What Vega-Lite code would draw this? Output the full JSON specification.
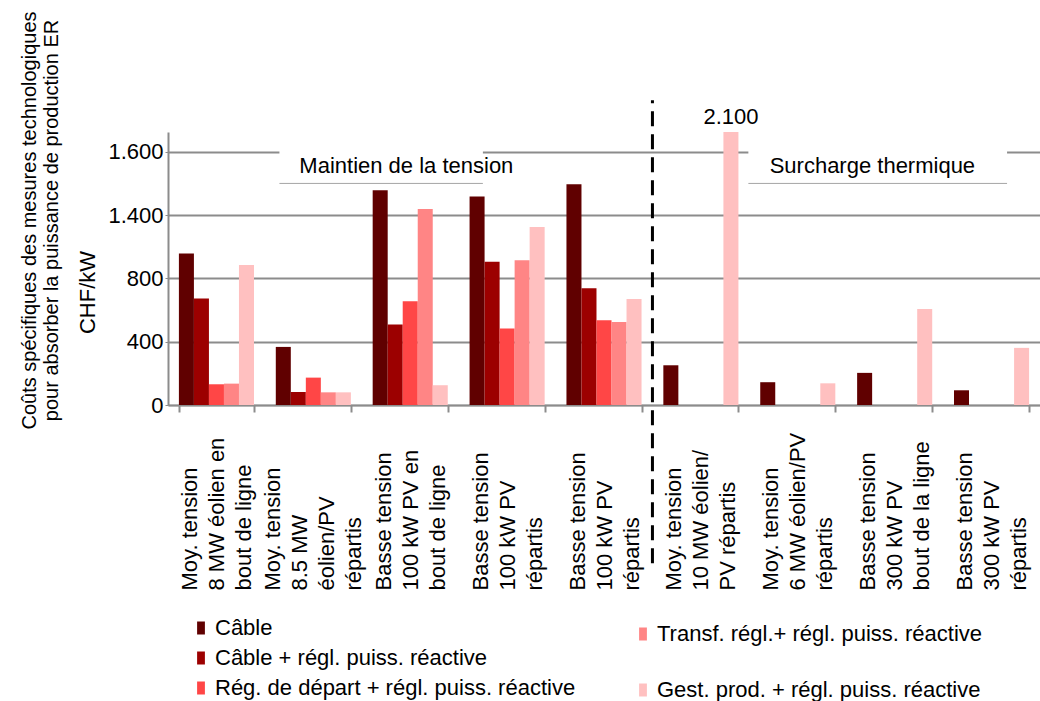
{
  "$schema": "https://vega.github.io/schema/vega-lite/v6.json",
  "width": 872,
  "height": 273,
  "autosize": {"type": "none"},
  "padding": {"left": 168, "top": 132, "right": 0, "bottom": 296},
  "title": {
    "text": ["Coûts spécifiques des mesures technologiques", "pour absorber la puissance de production ER"],
    "orient": "left",
    "anchor": "middle",
    "frame": "group",
    "font": "Liberation Sans",
    "fontSize": 20,
    "fontWeight": "normal",
    "color": "#000000",
    "lineHeight": 22,
    "offset": 15,
    "dx": 48
  },
  "config": {
    "font": "Liberation Sans",
    "locale": {"number": {"decimal": ",", "thousands": ".", "grouping": [3], "currency": ["", " CHF"]}},
    "view": {"stroke": null},
    "axis": {
      "labelFont": "Liberation Sans",
      "titleFont": "Liberation Sans",
      "labelColor": "#000000",
      "titleColor": "#000000",
      "titleFontWeight": "normal",
      "domainColor": "#8c8c8c",
      "tickColor": "#8c8c8c"
    },
    "legend": {
      "labelFont": "Liberation Sans",
      "labelColor": "#000000",
      "labelFontSize": 22,
      "labelLimit": 600,
      "padding": 0,
      "symbolType": "M-0.6,-1H0.6V1H-0.6Z",
      "symbolSize": 169,
      "symbolStrokeWidth": 0,
      "labelOffset": 3,
      "direction": "vertical"
    }
  },
  "datasets": {
    "costs": [
      {"scenario": "1|Moy. tension|8 MW éolien en|bout de ligne", "series": "Câble", "value": 958},
      {"scenario": "1|Moy. tension|8 MW éolien en|bout de ligne", "series": "Câble + régl. puiss. réactive", "value": 673},
      {"scenario": "1|Moy. tension|8 MW éolien en|bout de ligne", "series": "Rég. de départ + régl. puiss. réactive", "value": 131},
      {"scenario": "1|Moy. tension|8 MW éolien en|bout de ligne", "series": "Transf. régl.+ régl. puiss. réactive", "value": 135},
      {"scenario": "1|Moy. tension|8 MW éolien en|bout de ligne", "series": "Gest. prod. + régl. puiss. réactive", "value": 884},
      {"scenario": "2|Moy. tension|8.5 MW|éolien/PV|répartis", "series": "Câble", "value": 367},
      {"scenario": "2|Moy. tension|8.5 MW|éolien/PV|répartis", "series": "Câble + régl. puiss. réactive", "value": 82},
      {"scenario": "2|Moy. tension|8.5 MW|éolien/PV|répartis", "series": "Rég. de départ + régl. puiss. réactive", "value": 173},
      {"scenario": "2|Moy. tension|8.5 MW|éolien/PV|répartis", "series": "Transf. régl.+ régl. puiss. réactive", "value": 80},
      {"scenario": "2|Moy. tension|8.5 MW|éolien/PV|répartis", "series": "Gest. prod. + régl. puiss. réactive", "value": 80},
      {"scenario": "3|Basse tension|100 kW PV en|bout de ligne", "series": "Câble", "value": 1357},
      {"scenario": "3|Basse tension|100 kW PV en|bout de ligne", "series": "Câble + régl. puiss. réactive", "value": 509},
      {"scenario": "3|Basse tension|100 kW PV en|bout de ligne", "series": "Rég. de départ + régl. puiss. réactive", "value": 656},
      {"scenario": "3|Basse tension|100 kW PV en|bout de ligne", "series": "Transf. régl.+ régl. puiss. réactive", "value": 1239},
      {"scenario": "3|Basse tension|100 kW PV en|bout de ligne", "series": "Gest. prod. + régl. puiss. réactive", "value": 125},
      {"scenario": "4|Basse tension|100 kW PV|répartis", "series": "Câble", "value": 1317},
      {"scenario": "4|Basse tension|100 kW PV|répartis", "series": "Câble + régl. puiss. réactive", "value": 905},
      {"scenario": "4|Basse tension|100 kW PV|répartis", "series": "Rég. de départ + régl. puiss. réactive", "value": 484},
      {"scenario": "4|Basse tension|100 kW PV|répartis", "series": "Transf. régl.+ régl. puiss. réactive", "value": 914},
      {"scenario": "4|Basse tension|100 kW PV|répartis", "series": "Gest. prod. + régl. puiss. réactive", "value": 1125},
      {"scenario": "5|Basse tension|100 kW PV|répartis", "series": "Câble", "value": 1395},
      {"scenario": "5|Basse tension|100 kW PV|répartis", "series": "Câble + régl. puiss. réactive", "value": 737},
      {"scenario": "5|Basse tension|100 kW PV|répartis", "series": "Rég. de départ + régl. puiss. réactive", "value": 536},
      {"scenario": "5|Basse tension|100 kW PV|répartis", "series": "Transf. régl.+ régl. puiss. réactive", "value": 525},
      {"scenario": "5|Basse tension|100 kW PV|répartis", "series": "Gest. prod. + régl. puiss. réactive", "value": 669},
      {"scenario": "6|Moy. tension|10 MW éolien/|PV répartis", "series": "Câble", "value": 251},
      {"scenario": "6|Moy. tension|10 MW éolien/|PV répartis", "series": "Gest. prod. + régl. puiss. réactive", "value": 2100},
      {"scenario": "7|Moy. tension|6 MW éolien/PV|répartis", "series": "Câble", "value": 144},
      {"scenario": "7|Moy. tension|6 MW éolien/PV|répartis", "series": "Gest. prod. + régl. puiss. réactive", "value": 137},
      {"scenario": "8|Basse tension|300 kW PV|bout de la ligne", "series": "Câble", "value": 203},
      {"scenario": "8|Basse tension|300 kW PV|bout de la ligne", "series": "Gest. prod. + régl. puiss. réactive", "value": 606},
      {"scenario": "9|Basse tension|300 kW PV|répartis", "series": "Câble", "value": 93},
      {"scenario": "9|Basse tension|300 kW PV|répartis", "series": "Gest. prod. + régl. puiss. réactive", "value": 361}
    ]
  },
  "layer": [
    {
      "data": {"values": [{"section": "Maintien de la tension"}]},
      "layer": [
        {
          "mark": {"type": "rect", "color": "#ffffff"},
          "encoding": {
            "x": {"datum": 1.15, "type": "quantitative", "scale": {"domain": [0, 9], "nice": false}, "axis": null},
            "x2": {"datum": 3.25},
            "y": {"datum": 1385, "type": "quantitative", "scale": {"domain": [0, 1725], "nice": false}, "axis": null},
            "y2": {"datum": 1660}
          }
        },
        {
          "mark": {"type": "rule", "color": "#a6a6a6", "strokeWidth": 1},
          "encoding": {
            "x": {"datum": 1.15, "type": "quantitative"},
            "x2": {"datum": 3.25},
            "y": {"datum": 1400, "type": "quantitative"}
          }
        },
        {
          "mark": {"type": "text", "fontSize": 22, "color": "#000000", "baseline": "middle", "align": "center"},
          "encoding": {
            "x": {"datum": 2.46, "type": "quantitative"},
            "y": {"datum": 1510, "type": "quantitative"},
            "text": {"field": "section"}
          }
        }
      ]
    },
    {
      "data": {"values": [{"section": "Surcharge thermique"}]},
      "layer": [
        {
          "mark": {"type": "rect", "color": "#ffffff"},
          "encoding": {
            "x": {"datum": 5.99, "type": "quantitative", "scale": {"domain": [0, 9], "nice": false}, "axis": null},
            "x2": {"datum": 8.66},
            "y": {"datum": 1385, "type": "quantitative", "scale": {"domain": [0, 1725], "nice": false}, "axis": null},
            "y2": {"datum": 1660}
          }
        },
        {
          "mark": {"type": "rule", "color": "#a6a6a6", "strokeWidth": 1},
          "encoding": {
            "x": {"datum": 5.99, "type": "quantitative"},
            "x2": {"datum": 8.66},
            "y": {"datum": 1400, "type": "quantitative"}
          }
        },
        {
          "mark": {"type": "text", "fontSize": 22, "color": "#000000", "baseline": "middle", "align": "center"},
          "encoding": {
            "x": {"datum": 7.27, "type": "quantitative"},
            "y": {"datum": 1510, "type": "quantitative"},
            "text": {"field": "section"}
          }
        }
      ]
    },
    {
      "data": {"values": [{"divider": "Maintien / Surcharge"}]},
      "mark": {"type": "rule", "color": "#000000", "strokeWidth": 3, "strokeDash": [15, 8]},
      "encoding": {
        "x": {"datum": 5, "type": "quantitative", "scale": {"domain": [0, 9], "nice": false}, "axis": null},
        "y": {"datum": -1000, "type": "quantitative", "scale": {"domain": [0, 1725], "nice": false}, "axis": null},
        "y2": {"datum": 1925}
      }
    },
    {
      "data": {"name": "costs"},
      "layer": [
        {
          "transform": [{"filter": {"field": "series", "oneOf": ["Câble", "Câble + régl. puiss. réactive", "Rég. de départ + régl. puiss. réactive"]}}],
          "mark": {"type": "bar"},
          "encoding": {
            "x": {
              "field": "scenario", "type": "nominal",
              "scale": {"paddingInner": 0.225, "paddingOuter": 0.1125},
              "axis": {
                "orient": "bottom",
                "title": null,
                "labelExpr": "slice(split(datum.label, '|'), 1)",
                "labelAngle": -90,
                "labelAlign": "left",
                "labelBaseline": "middle",
                "labelFontSize": 22,
                "labelLineHeight": 27,
                "labelPadding": 178,
                "labelLimit": 400,
                "labelOverlap": false,
                "labelBound": false,
                "tickBand": "extent",
                "tickOffset": -5.45,
                "labelOffset": {"condition": {"test": "length(split(datum.label, '|')) > 4", "value": -40.5}, "value": -27},
                "tickSize": 7,
                "tickWidth": 2,
                "domainWidth": 1.5
              }
            },
            "xOffset": {
              "field": "series", "type": "nominal",
              "scale": {"domain": ["Câble", "Câble + régl. puiss. réactive", "Rég. de départ + régl. puiss. réactive", "Transf. régl.+ régl. puiss. réactive", "Gest. prod. + régl. puiss. réactive"], "paddingInner": 0, "paddingOuter": 0}
            },
            "y": {
              "field": "value", "type": "quantitative",
              "scale": {"domain": [0, 1725], "nice": false, "clamp": true},
              "axis": {
                "orient": "left",
                "title": "CHF/kW",
                "titleFontSize": 22,
                "titlePadding": 8,
                "titleY": 160,
                "values": [0, 200, 400, 600, 800, 1000, 1200, 1400, 1600],
                "labelExpr": "datum.value == 1200 ? '1.400' : (datum.value % 400 == 0 ? datum.label : '')",
                "labelFontSize": 22,
                "labelPadding": 2,
                "tickSize": 3,
                "grid": true,
                "gridColor": "#8c8c8c",
                "gridWidth": 2,
                "domainWidth": 2
              }
            },
            "color": {
              "field": "series", "type": "nominal",
              "scale": {"domain": ["Câble", "Câble + régl. puiss. réactive", "Rég. de départ + régl. puiss. réactive"], "range": ["#600000", "#9c0000", "#ff4646"]},
              "legend": {"orient": "none", "legendX": 22, "legendY": 485, "title": null, "rowPadding": 8}
            }
          }
        },
        {
          "transform": [{"filter": {"field": "series", "oneOf": ["Transf. régl.+ régl. puiss. réactive", "Gest. prod. + régl. puiss. réactive"]}}],
          "mark": {"type": "bar"},
          "encoding": {
            "x": {"field": "scenario", "type": "nominal"},
            "xOffset": {"field": "series", "type": "nominal"},
            "y": {"field": "value", "type": "quantitative"},
            "color": {
              "field": "series", "type": "nominal",
              "scale": {"domain": ["Transf. régl.+ régl. puiss. réactive", "Gest. prod. + régl. puiss. réactive"], "range": ["#ff8585", "#ffc0c0"]},
              "legend": {"orient": "none", "legendX": 464, "legendY": 491, "title": null, "rowPadding": 34}
            }
          }
        },
        {
          "transform": [{"filter": "datum.value > 1725"}],
          "mark": {"type": "text", "fontSize": 22, "color": "#000000", "baseline": "bottom", "align": "center", "dy": -3},
          "encoding": {
            "x": {"field": "scenario", "type": "nominal"},
            "xOffset": {"field": "series", "type": "nominal"},
            "y": {"field": "value", "type": "quantitative"},
            "text": {"field": "value", "type": "quantitative", "format": ",d"}
          }
        }
      ],
      "resolve": {"scale": {"color": "independent"}}
    }
  ],
  "resolve": {"scale": {"x": "independent", "y": "independent"}}
}
